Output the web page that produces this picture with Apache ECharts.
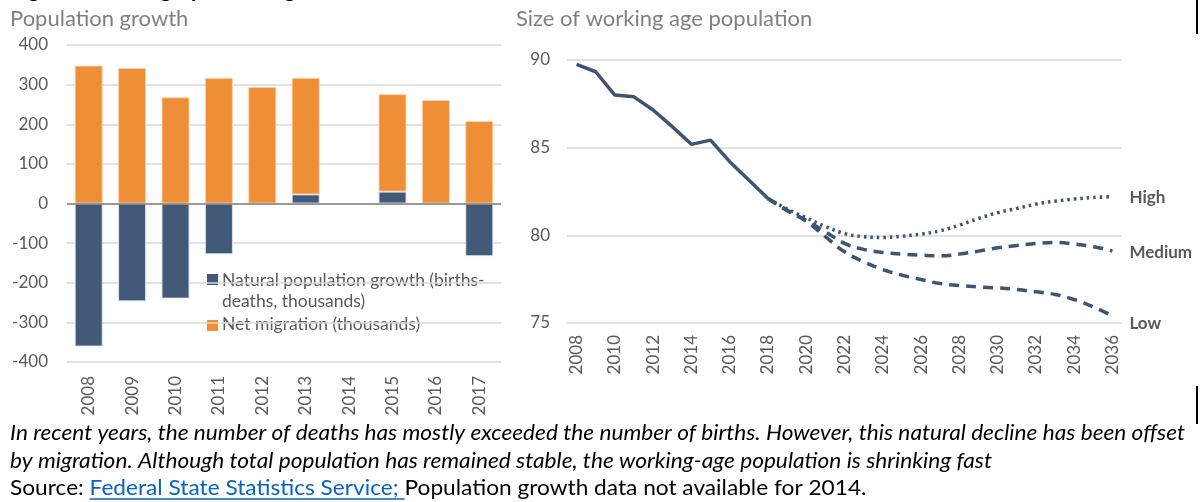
<!DOCTYPE html>
<html><head><meta charset="utf-8">
<script src="https://cdn.jsdelivr.net/npm/echarts@6/dist/echarts.min.js"></script>
<style>html,body{margin:0;padding:0;background:#fff}#c{width:1203px;height:502px}</style>
</head><body><div id="c"></div>
<script>
// ---- Data ----
var barYears = ['2008','2009','2010','2011','2012','2013','2014','2015','2016','2017'];
var naturalGrowth = [-361, -247, -240, -128, -4, 23, null, 30, 0, -133];
var netMigration = [348, 342, 268, 317, 294, 294, null, 246, 261, 208];
var barYTicks = [-400, 400, 100];

var lineYears = ['2008','2009','2010','2011','2012','2013','2014','2015','2016','2017','2018','2019','2020','2021','2022','2023','2024','2025','2026','2027','2028','2029','2030','2031','2032','2033','2034','2035','2036'];
var historical = [89.75, 89.33, 88.0, 87.9, 87.15, 86.2, 85.19, 85.43, 84.2, 83.15, 82.1];
var scenarioHigh   = [82.1, 81.5, 81.0, 80.5, 80.1, 79.92, 79.88, 79.95, 80.07, 80.26, 80.58, 80.96, 81.29, 81.53, 81.78, 81.95, 82.07, 82.16, 82.2];
var scenarioMedium = [82.1, 81.45, 80.85, 80.2, 79.54, 79.2, 79.02, 78.93, 78.87, 78.83, 78.93, 79.1, 79.29, 79.42, 79.54, 79.59, 79.5, 79.35, 79.11];
var scenarioLow    = [82.1, 81.4, 80.8, 79.92, 79.06, 78.49, 78.05, 77.73, 77.48, 77.25, 77.14, 77.06, 77.0, 76.91, 76.78, 76.63, 76.34, 75.92, 75.4];
var lineYTicks = [75, 90, 5];

var seriesNames = ['Natural population growth (births-deaths, thousands)', 'Net migration (thousands)'];
var scenarioNames = ['High', 'Medium', 'Low'];
var titles = ['Population growth', 'Size of working age population'];
var caption1 = 'In recent years, the number of deaths has mostly exceeded the number of births. However, this natural decline has been offset';
var caption2 = 'by migration. Although total population has remained stable, the working-age population is shrinking fast';
var sourceLabel = 'Source: ';
var sourceLink = 'Federal State Statistics Service; ';
var sourceRest = 'Population growth data not available for 2014.';
var topTitle = 'Figure 1: Demographic changes, 2008\u20132036';

// ---- Helpers ----
var startIdx = lineYears.indexOf('2018');
function padScenario(arr){ var out = []; for (var i=0;i<startIdx;i++) out.push(null); return out.concat(arr); }
function padHist(arr){ var out = arr.slice(); while (out.length < lineYears.length) out.push(null); return out; }

var NAVY = '#425A77', ORANGE = '#EE8E37', LINE = '#3D5572', GRAY = '#595959';
var FONT = 'Lato';

var mc = document.createElement('canvas').getContext('2d');
function tw(text, font){ mc.font = font; return mc.measureText(text).width; }
var CAP = 21;
var capFont = 'italic ' + CAP + 'px ' + FONT;
var srcFont = CAP + 'px ' + FONT;
var sx = 1175 / tw(caption1, capFont);
var x0 = 10;
var wLabel = tw(sourceLabel, srcFont) * sx, wLink = tw(sourceLink, srcFont) * sx;

var chart = echarts.init(document.getElementById('c'), null, {renderer: 'canvas'});
var option = {
  animation: false,
  textStyle: {fontFamily: FONT},
  grid: [
    {left: 67, right: 702, top: 45, bottom: 140},
    {left: 567, right: 81, top: 60, bottom: 179}
  ],
  xAxis: [
    {gridIndex: 0, type: 'category', data: barYears, position: 'bottom',
     axisLine: {show: false, onZero: false}, axisTick: {show: false},
     axisLabel: {rotate: 90, color: GRAY, fontSize: 17, margin: 14}},
    {gridIndex: 1, type: 'category', data: lineYears, position: 'bottom',
     axisLine: {show: false, onZero: false}, axisTick: {show: false},
     axisLabel: {rotate: 90, color: GRAY, fontSize: 17, margin: 12, interval: 1}}
  ],
  yAxis: [
    {gridIndex: 0, type: 'value', min: barYTicks[0], max: barYTicks[1], interval: barYTicks[2],
     axisLine: {show: false}, axisTick: {show: false},
     axisLabel: {color: GRAY, fontSize: 17, margin: 19},
     splitLine: {lineStyle: {color: '#D9D9D9', width: 1.5}}},
    {gridIndex: 1, type: 'value', min: lineYTicks[0], max: lineYTicks[1], interval: lineYTicks[2],
     axisLine: {show: false}, axisTick: {show: false},
     axisLabel: {color: GRAY, fontSize: 17, margin: 17},
     splitLine: {lineStyle: {color: '#D9D9D9', width: 1.5}}}
  ],
  series: [
    {name: seriesNames[0], type: 'bar', xAxisIndex: 0, yAxisIndex: 0, stack: 'pop', barWidth: 28,
     data: naturalGrowth, itemStyle: {color: NAVY, borderColor: 'rgba(220,228,238,0.9)', borderWidth: 1},
     markLine: {silent: true, symbol: 'none', label: {show: false},
       lineStyle: {color: '#808080', width: 1.5, type: 'solid'}, data: [{yAxis: 0}]}},
    {name: seriesNames[1], type: 'bar', xAxisIndex: 0, yAxisIndex: 0, stack: 'pop', barWidth: 28,
     data: netMigration, itemStyle: {color: ORANGE, borderColor: 'rgba(250,210,170,0.9)', borderWidth: 1}},
    {name: 'Historical', type: 'line', xAxisIndex: 1, yAxisIndex: 1, data: padHist(historical),
     showSymbol: false, lineStyle: {color: LINE, width: 3.5}, z: 3},
    {name: scenarioNames[0], type: 'line', xAxisIndex: 1, yAxisIndex: 1, data: padScenario(scenarioHigh),
     showSymbol: false, smooth: 0.4, lineStyle: {color: LINE, width: 3.5, type: [2.5, 4], cap: 'butt'},
     endLabel: {show: true, formatter: '{a}', color: GRAY, fontWeight: 'bold', fontSize: 17, distance: 17, offset: [0, 1]}},
    {name: scenarioNames[1], type: 'line', xAxisIndex: 1, yAxisIndex: 1, data: padScenario(scenarioMedium),
     showSymbol: false, smooth: 0.4, lineStyle: {color: LINE, width: 3.5, type: [10, 7]},
     endLabel: {show: true, formatter: '{a}', color: GRAY, fontWeight: 'bold', fontSize: 17, distance: 17, offset: [0, 2]}},
    {name: scenarioNames[2], type: 'line', xAxisIndex: 1, yAxisIndex: 1, data: padScenario(scenarioLow),
     showSymbol: false, smooth: 0.4, lineStyle: {color: LINE, width: 3.5, type: [10, 7]},
     endLabel: {show: true, formatter: '{a}', color: GRAY, fontWeight: 'bold', fontSize: 17, distance: 17, offset: [0, 8]}}
  ],
  graphic: [
    {type: 'text', left: 10, top: -21, style: {text: topTitle, font: 'bold 22px ' + FONT, fill: '#000'}},
    {type: 'text', left: 10, top: 8, style: {text: titles[0], font: '22px ' + FONT, fill: '#808080'}},
    {type: 'text', left: 516, top: 8, style: {text: titles[1], font: '22px ' + FONT, fill: '#808080'}},
    // legend
    {type: 'rect', shape: {x: 207, y: 274, width: 11, height: 11}, style: {fill: NAVY}},
    {type: 'text', x: 222, y: 270, style: {text: 'Natural population growth (births-\ndeaths, thousands)', font: '17.5px ' + FONT, fill: GRAY, lineHeight: 21}},
    {type: 'rect', shape: {x: 207, y: 320, width: 11, height: 11}, style: {fill: ORANGE}},
    {type: 'text', x: 222, y: 315, style: {text: seriesNames[1], font: '17.5px ' + FONT, fill: GRAY}},
    // caption
    {type: 'text', x: x0, y: 433, scaleX: sx, style: {text: caption1, font: capFont, fill: '#000', verticalAlign: 'middle'}},
    {type: 'text', x: x0, y: 461, scaleX: sx, style: {text: caption2, font: capFont, fill: '#000', verticalAlign: 'middle'}},
    {type: 'text', x: x0, y: 488, scaleX: sx, style: {text: sourceLabel, font: srcFont, fill: '#000', verticalAlign: 'middle'}},
    {type: 'text', x: x0 + wLabel, y: 488, scaleX: sx, style: {text: sourceLink, font: srcFont, fill: '#0563C1', verticalAlign: 'middle'}},
    {type: 'line', shape: {x1: x0 + wLabel, y1: 499, x2: x0 + wLabel + wLink, y2: 499}, style: {stroke: '#0563C1', lineWidth: 1.5}},
    {type: 'text', x: x0 + wLabel + wLink, y: 488, scaleX: sx, style: {text: sourceRest, font: srcFont, fill: '#000', verticalAlign: 'middle'}},
    // frame marks at right edge
    {type: 'line', shape: {x1: 1197, y1: 0, x2: 1197, y2: 34}, style: {stroke: '#000', lineWidth: 2}},
    {type: 'line', shape: {x1: 1197, y1: 386, x2: 1197, y2: 424}, style: {stroke: '#000', lineWidth: 2}}
  ]
};
chart.setOption(option);
</script></body></html>
